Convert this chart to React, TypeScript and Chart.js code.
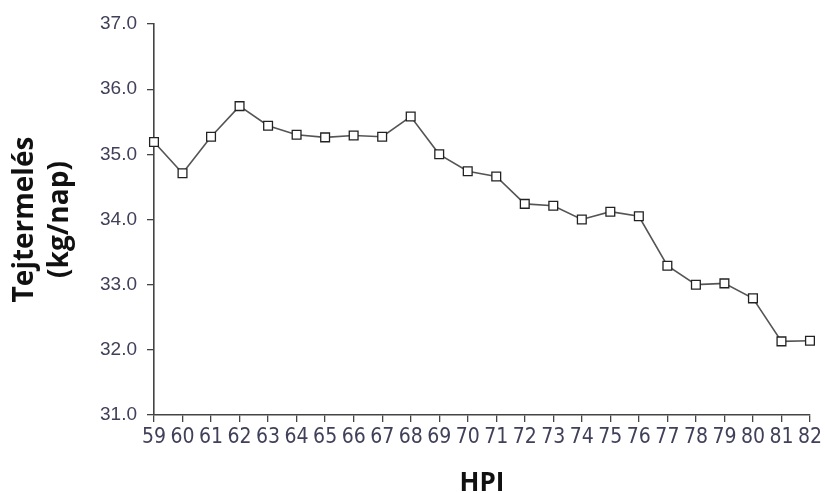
import React, { useEffect, useRef } from "react";
import { Chart, registerables } from "chart.js";

Chart.register(...registerables);

const categories = ["59","60","61","62","63","64","65","66","67","68","69","70","71","72","73","74","75","76","77","78","79","80","81","82"];
const milkYield = [35.19,34.71,35.27,35.74,35.44,35.30,35.26,35.29,35.27,35.58,35.00,34.74,34.66,34.24,34.21,34.00,34.12,34.05,33.29,33.00,33.02,32.79,32.13,32.14];
const yTitleLines = ["Tejtermelés", "(kg/nap)"];
const xTitle = "HPI";
const yMin = 31;
const yMax = 37;
const yStep = 1;

export default function App() {
  const ref = useRef<HTMLCanvasElement | null>(null);
  useEffect(() => {
    if (!ref.current) return;
    const axisColor = "#444444";
    const chart = new Chart(ref.current, {
      type: "line",
      data: {
        labels: categories,
        datasets: [
          {
            data: milkYield,
            borderColor: "#555555",
            borderWidth: 1.6,
            pointStyle: "rect",
            pointRadius: 6.2,
            pointBackgroundColor: "#ffffff",
            pointBorderColor: "#222222",
            pointBorderWidth: 1.3,
            tension: 0,
            fill: false,
          },
        ],
      },
      options: {
        responsive: false,
        animation: false,
        devicePixelRatio: 1,
        layout: { padding: { left: 8, top: 24, right: 13, bottom: 0 } },
        plugins: { legend: { display: false }, tooltip: { enabled: false } },
        scales: {
          x: {
            type: "category",
            offset: false,
            grid: { display: true, drawOnChartArea: false, drawTicks: true, tickLength: 7, color: axisColor, lineWidth: 1.3 },
            border: { display: true, color: axisColor, width: 1.6 },
            ticks: {
              color: "#40405a",
              font: { family: "'Liberation Sans Narrow', 'DejaVu Sans Condensed', Arial", size: 21 },
              padding: 3,
              maxRotation: 0,
              autoSkip: false,
            },
            title: {
              display: true,
              text: xTitle,
              color: "#111111",
              font: { family: "'Open Sans', sans-serif", size: 26, weight: "bold", lineHeight: 0.75 },
              padding: { top: 0, bottom: 0 },
            },
            afterFit: (scale: any) => {
              scale.height = 78;
            },
          },
          y: {
            min: yMin,
            max: yMax,
            grid: { display: true, drawOnChartArea: false, drawTicks: true, tickLength: 7, color: axisColor, lineWidth: 1.3 },
            border: { display: true, color: axisColor, width: 1.6 },
            ticks: {
              stepSize: yStep,
              color: "#40405a",
              font: { family: "'Liberation Sans', Arial", size: 19 },
              padding: 10,
              callback: (v: any) => Number(v).toFixed(1),
            },
            title: {
              display: true,
              text: yTitleLines,
              color: "#111111",
              font: { family: "'Open Sans', sans-serif", size: 28, weight: "bold", lineHeight: 1.25 },
              padding: { top: 0, bottom: 0 },
            },
            afterFit: (scale: any) => {
              scale.width = 146;
            },
          },
        },
      },
    });
    return () => chart.destroy();
  }, []);
  return (
    <div style={{ position: "fixed", left: 0, top: 0, width: 825, height: 493, background: "#fff" }}>
      <canvas ref={ref} width={825} height={493} style={{ width: 825, height: 493, display: "block" }} />
    </div>
  );
}
